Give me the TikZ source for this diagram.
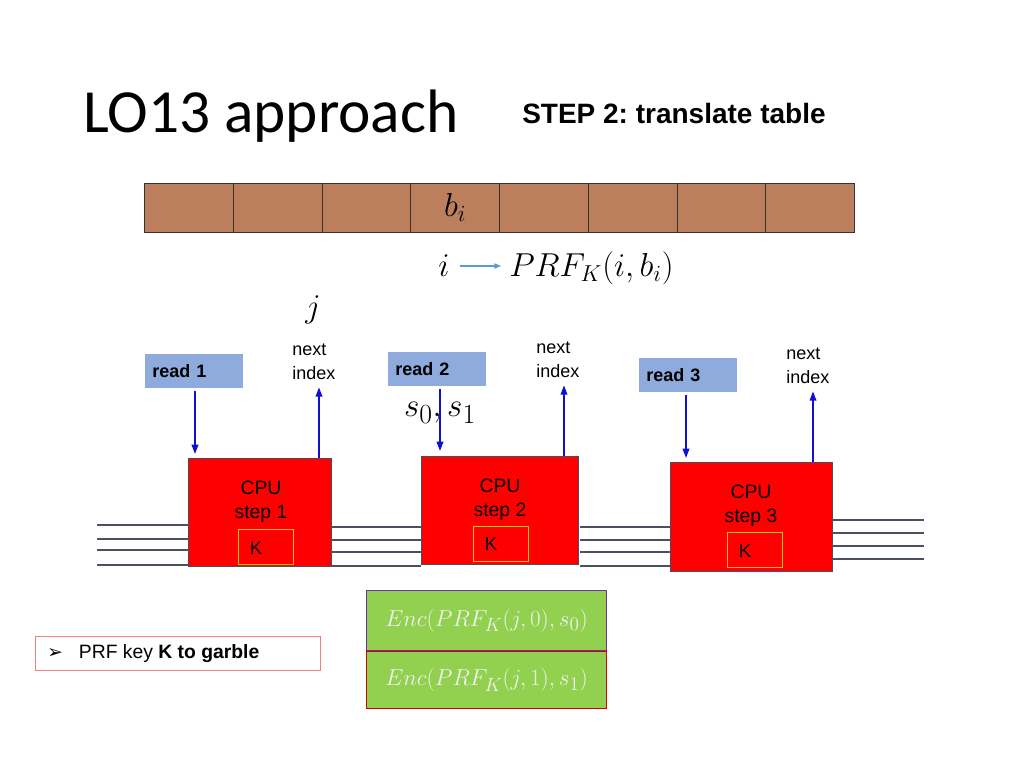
\documentclass[tikz,border=0pt]{standalone}
\usepackage{fontspec}
\setmainfont{Liberation Sans}
\newfontfamily\titlefont{Carlito}
\newfontfamily\symfont{DejaVu Sans}
\usetikzlibrary{arrows.meta,calc}
\definecolor{brownc}{HTML}{BB7F5D}
\definecolor{readc}{HTML}{8FAADC}
\definecolor{greenc}{HTML}{92D050}
\definecolor{arrowblue}{HTML}{1010D0}
\definecolor{lightblue}{HTML}{5B9BD5}
\definecolor{wirec}{HTML}{4A5060}
\definecolor{kborder}{HTML}{FFC000}
\definecolor{purplec}{HTML}{7030A0}
\definecolor{pinkc}{HTML}{F08080}
\begin{document}
\begin{tikzpicture}[x=0.75pt,y=-0.75pt,
  cell/.style={draw=black!80,fill=brownc,minimum width=88.75*0.75pt,minimum height=49*0.75pt,inner sep=0pt,line width=0.8pt},
  readbox/.style={fill=readc,minimum height=34*0.75pt,minimum width=98*0.75pt,inner sep=0pt,font=\bfseries\fontsize{13.5}{16}\selectfont,align=left,text width=84*0.75pt},
  nexttxt/.style={font=\fontsize{13.5}{18}\selectfont,align=left,inner sep=0pt},
  cpubox/.style={draw=wirec,fill=red,line width=1pt,inner sep=0pt},
  kbox/.style={draw=kborder,line width=1pt,minimum width=55*0.75pt,minimum height=35*0.75pt,inner sep=0pt},
  cputxt/.style={font=\fontsize{14.5}{18}\selectfont,align=center,inner sep=0pt},
  ktxt/.style={font=\fontsize{14}{16}\selectfont,inner sep=0pt},
  barrow/.style={draw=arrowblue,line width=1.2pt,-{Triangle[length=7pt,width=5pt]}},
  wire/.style={draw=wirec,line width=1.3pt},
  encbox/.style={fill=greenc,minimum width=240*0.75pt,inner sep=0pt,text=white!95!black,font=\fontsize{19}{22}\selectfont,line width=1pt},
  mathbig/.style={font=\fontsize{27}{30}\selectfont,inner sep=0pt}
]
\useasboundingbox (0,0) rectangle (1024,768);
% title
\node[anchor=base west,inner sep=0pt,font=\titlefont\fontsize{46}{52}\selectfont] (title) at (83,132) {LO13 approach};
\node[anchor=base west,inner sep=0pt,font=\bfseries\fontsize{21}{24}\selectfont] (step) at (522,123) {STEP 2:\ translate table};
% table
\foreach \k in {0,...,7}{
  \node[cell,anchor=north west] (c\k) at ({144+\k*88.75},183) {};
}
\node[mathbig] (bi) at ($(c3)+(0,-1)$) {$b_i$};
\node[mathbig] (ii) at (444,266) {$i$};
\node[mathbig,anchor=west] (prf) at (509,268) {$PRF_K(i,b_i)$};
\draw[draw=lightblue,line width=0.8pt,-{Triangle[length=5pt,width=4pt]}] (ii.east |- 0,266) ++(10,0) -- ($(prf.west |- 0,266)+(-8,0)$);
\node[mathbig] (jj) at (313,310) {$j$};
% read boxes
\node[readbox,anchor=north west] (r1) at (145,354) {read 1};
\node[readbox,anchor=north west] (r2) at (388,352) {read 2};
\node[readbox,anchor=north west] (r3) at (639,358) {read 3};
% next index
\node[nexttxt,anchor=north west] (n1) at (292,344) {next\\index};
\node[nexttxt,anchor=north west] (n2) at (536,342) {next\\index};
\node[nexttxt,anchor=north west] (n3) at (786,348) {next\\index};
% CPU boxes
\node[cpubox,anchor=north west,minimum width=143*0.75pt,minimum height=108*0.75pt] (cpu1) at (188,458) {};
\node[cpubox,anchor=north west,minimum width=157*0.75pt,minimum height=108*0.75pt] (cpu2) at (421,456) {};
\node[cpubox,anchor=north west,minimum width=162*0.75pt,minimum height=109*0.75pt] (cpu3) at (670,462) {};
\node[kbox,anchor=north west] (k1) at (238,529) {};
\node[kbox,anchor=north west] (k2) at (473,526) {};
\node[kbox,anchor=north west] (k3) at (727,532) {};
\node[ktxt] (kt1) at (256,548) {K};
\node[ktxt] (kt2) at (491,544) {K};
\node[ktxt] (kt3) at (745,551) {K};
\node[cputxt] (ct1) at (261,502) {CPU\\step 1};
\node[cputxt] (ct2) at (500,500) {CPU\\step 2};
\node[cputxt] (ct3) at (751,506) {CPU\\step 3};
% s0,s1
\node[inner sep=0pt,font=\fontsize{31}{34}\selectfont] (ss) at (440,413) {$s_0,s_1$};
% arrows
\coordinate (a1s) at (195,391);
\coordinate (a2s) at (440,389);
\coordinate (a3s) at (686,395);
\draw[barrow] (a1s) -- ($(a1s |- cpu1.north)+(0,-4)$);
\draw[barrow] (a2s) -- ($(a2s |- cpu2.north)+(0,-5)$);
\draw[barrow] (a3s) -- ($(a3s |- cpu3.north)+(0,-4)$);
\draw[barrow] (cpu1.north -| 319,0) -- ($(n1.south -| 319,0)+(0,7)$);
\draw[barrow] (cpu2.north -| 564,0) -- ($(n2.south -| 564,0)+(0,7)$);
\draw[barrow] (cpu3.north -| 813,0) -- ($(n3.south -| 813,0)+(0,7)$);
% wires
\foreach \y in {525,539,550,565}{\draw[wire] (97,\y) -- (cpu1.west |- 0,\y);}
\foreach \y in {527,540,552,566}{\draw[wire] (cpu1.east |- 0,\y) -- (cpu2.west |- 0,\y);}
\foreach \y in {527,540,552,566}{\draw[wire] (580,\y) -- (cpu3.west |- 0,\y);}
\foreach \y in {520,533,546,559}{\draw[wire] (cpu3.east |- 0,\y) -- (924,\y);}
% enc boxes
\node[encbox,draw=purplec,anchor=north west,minimum height=60*0.75pt] (e0) at (366,590) {$Enc(PRF_K(j,0),s_0)$};
\node[encbox,draw=red!85!black,anchor=north west,minimum height=57*0.75pt] (e1) at (366,651) {$Enc(PRF_K(j,1),s_1)$};
% PRF key box
\node[draw=pinkc,line width=0.8pt,anchor=north west,minimum width=285*0.75pt,minimum height=34*0.75pt,inner sep=0pt] (pk) at (35,636) {};
\node[anchor=west,inner sep=0pt,font=\fontsize{14.5}{17}\selectfont] (pkt) at (47,654) {{\symfont\fontsize{14}{15}\selectfont ➢}\hspace{12pt}PRF key \textbf{K to garble}};
\end{tikzpicture}
\end{document}
